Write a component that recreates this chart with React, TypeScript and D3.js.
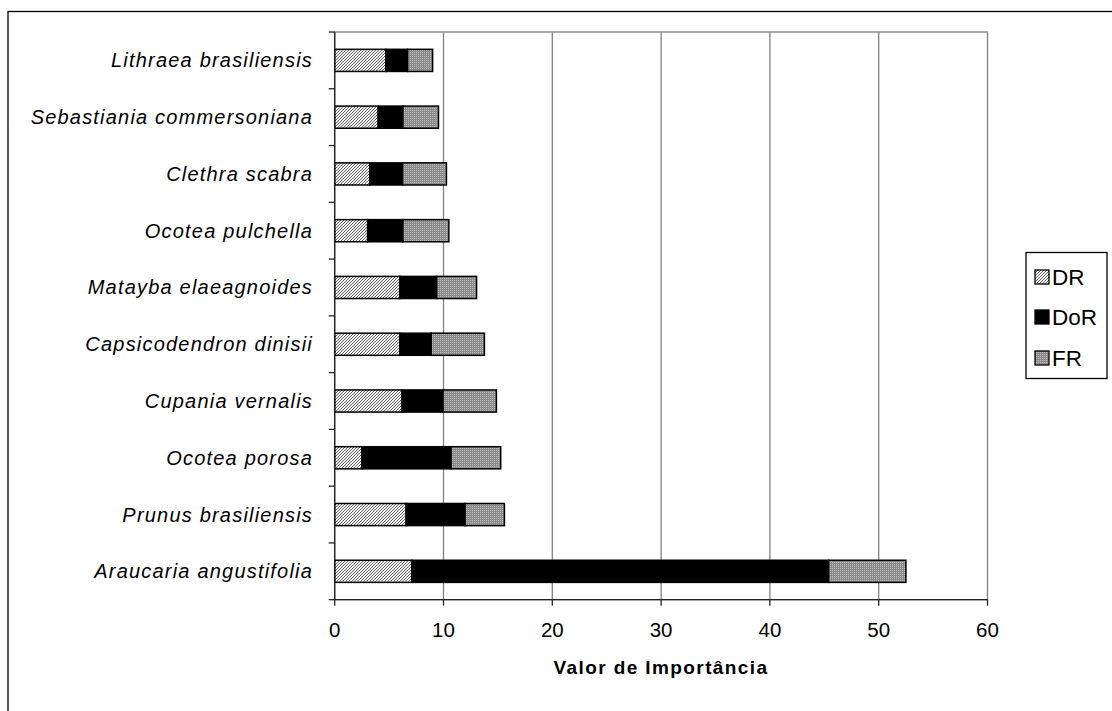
import React from "react";
import * as d3 from "d3";

const categories = [
  "Lithraea brasiliensis",
  "Sebastiania commersoniana",
  "Clethra scabra",
  "Ocotea pulchella",
  "Matayba elaeagnoides",
  "Capsicodendron dinisii",
  "Cupania vernalis",
  "Ocotea porosa",
  "Prunus brasiliensis",
  "Araucaria angustifolia",
];
const DR = [4.7, 4.0, 3.24, 3.03, 6.0, 6.0, 6.2, 2.5, 6.57, 7.1];
const DoR = [2.0, 2.27, 3.0, 3.24, 3.37, 2.87, 3.76, 8.2, 5.41, 38.3];
const FR = [2.3, 3.27, 4.03, 4.22, 3.67, 4.89, 4.9, 4.56, 3.62, 7.1];
const seriesNames = ["DR", "DoR", "FR"];
const xTicks = [0, 10, 20, 30, 40, 50, 60];
const xTitle = "Valor de Importância";

const FONT = "'Liberation Sans', Arial, sans-serif";

export default function App() {
  const left = 334.7, right = 987.5, top = 32, bottom = 599.7;
  const x = d3.scaleLinear().domain([0, 60]).range([left, right]);
  const y = d3.scaleBand<string>().domain(categories).range([top, bottom]).paddingInner(0.61).paddingOuter(0.305);
  const fills = ["url(#patDR)", "#000", "url(#patFR)"];
  const series = [DR, DoR, FR];
  const rows = categories.map((c, i) => {
    let acc = 0;
    return series.map((s, k) => {
      const x0 = acc;
      acc += s[i];
      return { c, k, x0, x1: acc };
    });
  });
  const bandStep = (bottom - top) / categories.length;
  const catTicks = d3.range(categories.length + 1).map((i) => top + i * bandStep);
  const legendY = [277, 317, 358];

  return (
    <svg width={1112} height={711} style={{ position: "absolute", left: 0, top: 0, background: "#fff" }}>
      <defs>
        <pattern id="patDR" patternUnits="userSpaceOnUse" width={3} height={3}>
          <rect width={3} height={3} fill="#f4f4f4" />
          <path d="M-1,1 L1,-1 M0,3 L3,0 M2,4 L4,2" stroke="#555" strokeWidth={0.9} />
        </pattern>
        <pattern id="patFR" patternUnits="userSpaceOnUse" width={2} height={2}>
          <rect width={2} height={2} fill="#8c8c8c" />
          <rect width={1} height={1} fill="#b8b8b8" />
        </pattern>
      </defs>
      <rect x={8} y={11.5} width={1200} height={800} fill="none" stroke="#000" strokeWidth={1.3} />
      {/* plot area */}
      <rect x={left} y={top} width={right - left} height={bottom - top} fill="none" stroke="#808080" strokeWidth={1.3} />
      {xTicks.slice(1, -1).map((t) => (
        <line key={t} x1={x(t)} x2={x(t)} y1={top} y2={bottom} stroke="#808080" strokeWidth={1.3} />
      ))}
      {/* bars */}
      {rows.map((r) =>
        r.map((seg) => (
          <rect
            key={seg.c + seg.k}
            x={x(seg.x0)}
            y={y(seg.c)}
            width={x(seg.x1) - x(seg.x0)}
            height={y.bandwidth()}
            fill={fills[seg.k]}
            stroke="#000"
            strokeWidth={1.5}
          />
        ))
      )}
      {/* axes */}
      <line x1={left} x2={left} y1={top} y2={bottom} stroke="#222" strokeWidth={1.3} />
      <line x1={left} x2={right} y1={bottom} y2={bottom} stroke="#222" strokeWidth={1.3} />
      {catTicks.map((t, i) => (
        <line key={i} x1={left - 6} x2={left} y1={t} y2={t} stroke="#222" strokeWidth={1.3} />
      ))}
      {xTicks.map((t) => (
        <g key={t}>
          <line x1={x(t)} x2={x(t)} y1={bottom} y2={bottom + 6} stroke="#222" strokeWidth={1.3} />
          <text x={x(t)} y={637} textAnchor="middle" fontFamily={FONT} fontSize={20.5} fill="#000">
            {t}
          </text>
        </g>
      ))}
      {categories.map((c) => (
        <text
          key={c}
          x={313}
          y={(y(c) as number) + y.bandwidth() / 2 + 7}
          textAnchor="end"
          fontFamily={FONT}
          fontSize={20}
          fontStyle="italic"
          letterSpacing={1.2}
          fill="#000"
        >
          {c}
        </text>
      ))}
      <text x={661} y={674} textAnchor="middle" fontFamily={FONT} fontSize={19} fontWeight="bold" letterSpacing={1.4} fill="#000">
        {xTitle}
      </text>
      {/* legend */}
      <rect x={1026} y={252.5} width={81} height={126} fill="#fff" stroke="#000" strokeWidth={1.3} />
      {seriesNames.map((n, k) => (
        <g key={n}>
          <rect x={1035} y={legendY[k] - 7} width={14} height={14} fill={fills[k]} stroke="#000" strokeWidth={1.3} />
          <text x={1052} y={legendY[k] + 8} fontFamily={FONT} fontSize={22.5} fill="#000">
            {n}
          </text>
        </g>
      ))}
    </svg>
  );
}
